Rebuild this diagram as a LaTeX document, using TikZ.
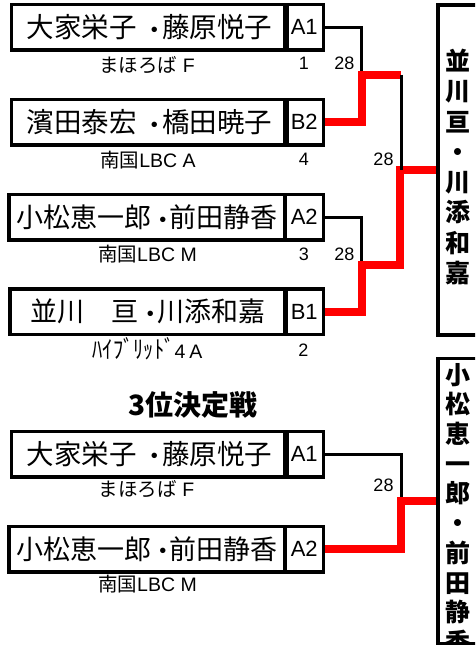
\documentclass[tikz,border=0pt]{standalone}
\usepackage{fontspec}
\setmainfont{Liberation Sans}
\newfontfamily\cjk{Noto Sans CJK JP}
\newcommand\duo[4]{#1\hspace{#3}\raisebox{1.5pt}{\rmfamily\fontsize{20}{20}\selectfont •}\hspace{#4}#2}
\begin{document}
\begin{tikzpicture}[x=1pt,y=-1pt,
  box/.style={draw, line width=3.5pt, inner sep=0pt, minimum height=45.5pt},
  namecell/.style={box, minimum width=276pt, font=\cjk\fontsize{27.5}{30}\selectfont},
  namecellb/.style={box, minimum width=276pt, font=\cjk\fontsize{27}{30}\selectfont},
  seedcell/.style={box, minimum width=38.5pt, font=\fontsize{22}{26}\selectfont},
  club/.style={inner sep=0pt, font=\fontsize{19.5}{20}\selectfont},
  score/.style={inner sep=0pt, font=\fontsize{18}{20}\selectfont},
  link/.style={line width=3pt},
  win/.style={line width=8pt, red},
  winbox/.style={draw, line width=3.5pt, inner sep=0pt, minimum width=62pt},
  vert/.style={inner sep=0pt, align=center, font=\cjk\bfseries\fontsize{25}{30.3}\selectfont},
  vertb/.style={inner sep=0pt, align=center, font=\cjk\bfseries\fontsize{25}{29.7}\selectfont},
  title/.style={inner sep=0pt, font=\cjk\bfseries\fontsize{28}{30}\selectfont}]
\clip (0,0) rectangle (475,646);
% entry boxes
\node[namecell] (n1) at (149.5,27.25) {\duo{大家栄子}{藤原悦子}{14pt}{4pt}};
\node[seedcell] (s1) at (304.25,27.25) {A1};
\node[namecell] (n2) at (149.5,122.25) {\duo{濱田泰宏}{橋田暁子}{14pt}{4pt}};
\node[seedcell] (s2) at (304.25,122.25) {B2};
\node[namecellb] (n3) at (147,217.25) {\duo{小松恵一郎}{前田静香}{8pt}{3pt}};
\node[seedcell] (s3) at (304.25,217.25) {A2};
\node[namecellb] (n4) at (148,311.75) {\duo{並川　亘}{川添和嘉}{8pt}{3pt}};
\node[seedcell] (s4) at (304.25,311.75) {B1};
\node[namecell] (n5) at (149.5,454) {\duo{大家栄子}{藤原悦子}{14pt}{4pt}};
\node[seedcell] (s5) at (304.25,454) {A1};
\node[namecellb] (n6) at (147,549) {\duo{小松恵一郎}{前田静香}{8pt}{3pt}};
\node[seedcell] (s6) at (304.25,549) {A2};
% clubs
\node[club] (c1) at (147,65) {{\cjk まほろば} F};
\node[club] (c2) at (148,160) {{\cjk 南国}LBC A};
\node[club] (c3) at (147.5,254.5) {{\cjk 南国}LBC M};
\node[club] (c4) at (147.5,349) {\scalebox{1}[1.2]{\cjk\fontsize{20.5}{20}\selectfont ﾊｲﾌﾞﾘｯﾄﾞ}4\hspace{4pt}A};
\node[club] (c5) at (146.5,489.5) {{\cjk まほろば} F};
\node[club] (c6) at (147.5,584.5) {{\cjk 南国}LBC M};
% seeds and scores
\node[score] (d1) at (304,63.5) {1};
\node[score] (g1) at (344.5,63.5) {28};
\node[score] (d2) at (304,159.5) {4};
\node[score] (g3) at (383.5,159.5) {28};
\node[score] (d3) at (304,254.5) {3};
\node[score] (g2) at (344.5,254.5) {28};
\node[score] (d4) at (303.5,350) {2};
\node[score] (g4) at (383.5,485.5) {28};
% title
\node[title] (t) at (193,405) {3位決定戦};
% winner boxes
\node[winbox, minimum height=330pt] (w1) at (469,170) {};
\node[winbox, minimum height=285pt] (w2) at (469,501) {};
\node[vert] (v1) at (457.5,167) {並\\川\\亘\\・\\川\\添\\和\\嘉};
\begin{scope}
\clip (439.75,360.25) rectangle (500,641.75);
\node[vertb] (v2) at (457.5,508.5) {小\\松\\恵\\一\\郎\\・\\前\\田\\静\\香};
\end{scope}
% junctions
\coordinate (j1) at (361.5,74.75);
\coordinate (j2) at (361.5,264.5);
\coordinate (k1) at (401,74.75);
\coordinate (k2) at (400,264.5);
\coordinate (j3) at (401,501);
% connectors
\draw[link] (s1.east) -| (j1);
\draw[link] (s3.east) -| (j2);
\draw[link] (s5.east) -| (j3);
\draw[win] (s2.east) -| (j1) -- (k1);
\draw[win] (s4.east) -| (j2) -- (k2) -- (k2 |- w1.west) -- (w1.west);
\draw[link] (k1) -- (k1 |- w1.west);
\draw[win] (s6.east) -| (j3) -- (w2.west);
\end{tikzpicture}
\end{document}
